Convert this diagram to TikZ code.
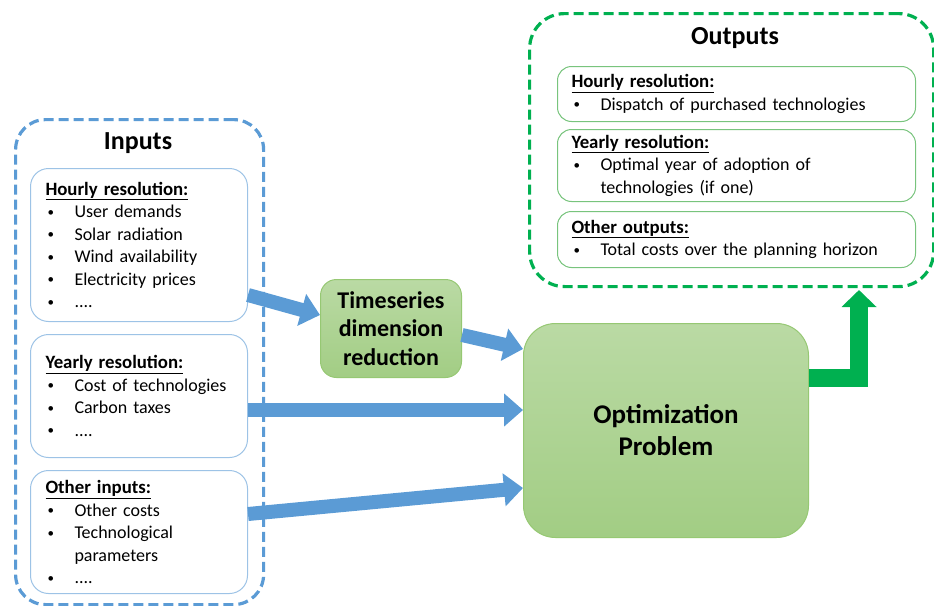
\documentclass[tikz,border=0pt]{standalone}
\usepackage{fontspec}
\setmainfont{Carlito}
\usetikzlibrary{arrows.meta,calc}
\definecolor{inblue}{RGB}{91,155,213}
\definecolor{inline}{RGB}{157,195,230}
\definecolor{outgreen}{RGB}{0,176,80}
\definecolor{outline}{RGB}{120,196,125}
\definecolor{boxline}{RGB}{150,200,115}
\definecolor{gtop}{RGB}{186,218,164}
\definecolor{gbot}{RGB}{162,205,132}
\newcommand{\bitem}[1]{\makebox[29pt][l]{\hspace{2pt}\raisebox{1.5pt}{\fontsize{13}{13}\selectfont\textbullet}}#1}
\newcommand{\bcont}[1]{\hspace*{29pt}#1}
\newcommand{\hd}[1]{{\fontsize{18.8}{22.5}\selectfont\textbf{\underline{#1}}}}
\begin{document}
\begin{tikzpicture}[x=1pt,y=-1pt,
  outerbox/.style={line width=3.2pt, dash pattern=on 10pt off 5pt, anchor=north west, inner sep=0pt},
  inbox/.style={draw=inline, line width=1pt, rounded corners=18pt, fill=white, anchor=north west,
    minimum width=217pt, text width=187pt, inner xsep=15pt, inner ysep=0pt, align=left,
    font=\fontsize{18}{22.5}\selectfont},
  outbox/.style={draw=outline, line width=1pt, rounded corners=14pt, fill=white, anchor=north west,
    minimum width=358pt, text width=330pt, inner xsep=14pt, inner ysep=0pt, align=left,
    font=\fontsize{18}{22.5}\selectfont},
  greenbox/.style={draw=boxline, line width=1pt, top color=gtop, bottom color=gbot, anchor=north west,
    align=center, inner sep=0pt},
  title/.style={font=\bfseries\fontsize{26}{30}\selectfont},
  barrow/.style={draw=inblue, line width=14pt, -{Triangle[length=19pt,width=32pt]}},
  garrow/.style={draw=outgreen, line width=18pt, line join=miter, -{Triangle[length=17pt,width=34pt]}}
]
\useasboundingbox (0,0) rectangle (934,605);

% Inputs
\node[outerbox, draw=inblue, rounded corners=30pt, minimum width=248pt, minimum height=485pt] (inputs) at (14,118) {};
\node[title] (intitle) at (138,143) {Inputs};
\node[inbox, minimum height=153pt] (in1) at (30,168) {\hd{Hourly resolution:}\\
  \bitem{User demands}\\ \bitem{Solar radiation}\\ \bitem{Wind availability}\\ \bitem{Electricity prices}\\ \bitem{....}};
\node[inbox, minimum height=123pt] (in2) at (30,334) {\hd{Yearly resolution:}\\
  \bitem{Cost of technologies}\\ \bitem{Carbon taxes}\\ \bitem{....}};
\node[inbox, minimum height=123pt] (in3) at (30,470) {\hd{Other inputs:}\\
  \bitem{Other costs}\\ \bitem{Technological}\\ \bcont{parameters}\\ \bitem{....}};

% Outputs
\node[outerbox, draw=outgreen, rounded corners=35pt, minimum width=404pt, minimum height=273pt] (outputs) at (528,12) {};
\node[title] (outtitle) at (735,38) {Outputs};
\node[outbox, minimum height=55pt] (out1) at (557,66) {\hd{Hourly resolution:}\\
  \bitem{Dispatch of purchased technologies}};
\node[outbox, minimum height=72pt] (out2) at (557,129) {\hd{Yearly resolution:}\\
  \bitem{Optimal year of adoption of}\\ \bcont{technologies (if one)}};
\node[outbox, minimum height=56pt] (out3) at (557,211) {\hd{Other outputs:}\\
  \bitem{Total costs over the planning horizon}};

% Processing
\node[greenbox, rounded corners=16pt, minimum width=141pt, minimum height=98pt,
  font=\bfseries\fontsize{24}{28.5}\selectfont] (ts) at (320,279) {Timeseries\\dimension\\reduction};
\node[greenbox, rounded corners=32pt, minimum width=285pt, minimum height=214pt,
  font=\bfseries\fontsize{27}{32}\selectfont] (opt) at (523,323) {Optimization\\Problem};

% Arrows
\draw[barrow] ($(in1.north east)+(0,127)$) -- ($(ts.north west)+(0,36)$);
\draw[barrow] ($(ts.north east)+(0,56)$) -- ($(opt.north west)+(0,26)$);
\draw[barrow] ($(in2.north east)+(0,76)$) -- ($(opt.north west)+(0,87)$);
\draw[barrow] ($(in3.north east)+(0,44)$) -- ($(opt.north west)+(0,165)$);

\coordinate (gstart) at ($(opt.north east)+(0,55)$);
\coordinate (gcorner) at (859,378);
\coordinate (gtip) at (859,290);
\draw[garrow] (gstart) -- (gcorner) -- (gtip);
\end{tikzpicture}
\end{document}
